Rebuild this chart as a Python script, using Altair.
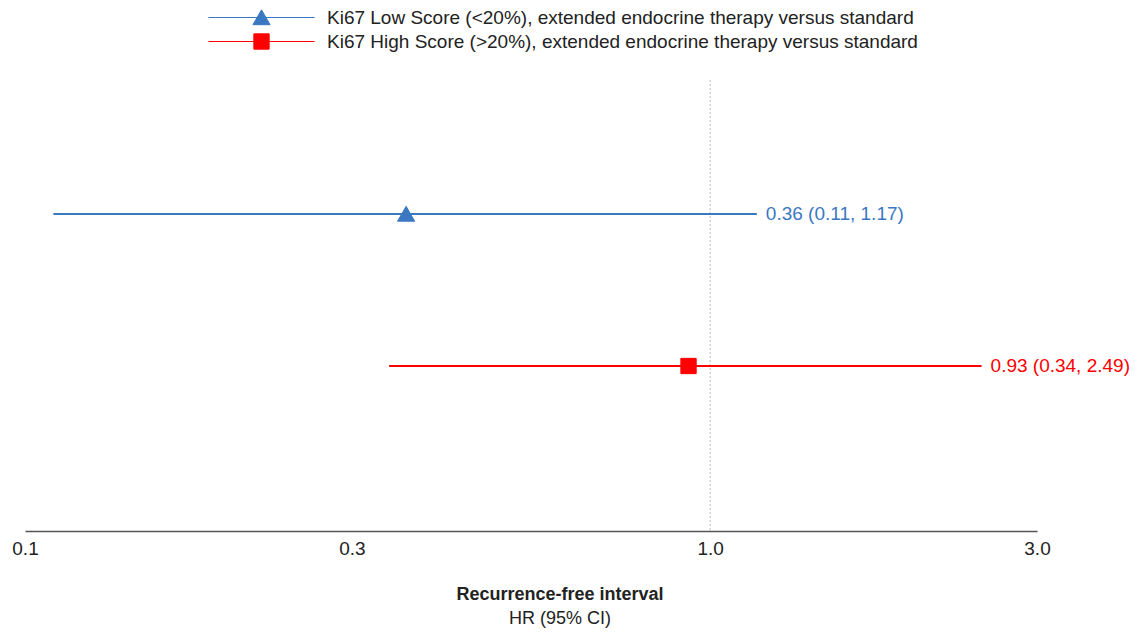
import altair as alt
import pandas as pd

groups = [
    "Ki67 Low Score (<20%),  extended endocrine therapy versus standard",
    "Ki67 High Score (>20%), extended endocrine therapy versus standard",
]
hr = [0.36, 0.93]
lo = [0.11, 0.34]
hi = [1.17, 2.49]
labels = ["0.36 (0.11, 1.17)", "0.93 (0.34, 2.49)"]
ticks = [0.1, 0.3, 1.0, 3.0]
ref_value = [1.0]

df = pd.DataFrame({"group": groups, "hr": hr, "lo": lo, "hi": hi, "label": labels})
ref = pd.DataFrame({"ref": ref_value})

FONT = "Liberation Sans"
BLUE = "#3A78C2"
RED = "#FF0000"

xscale = alt.Scale(type="log", domain=[0.1, 3.0], nice=False)
yscale = alt.Scale(type="point", domain=groups, range=[134, 286], padding=0)
cscale = alt.Scale(domain=groups, range=[BLUE, RED])

tri = "M-5.9,0L5.9,0M0,-0.85L0.95,0.8L-0.95,0.8Z"
sq = "M-5.9,0L5.9,0M-0.85,-0.85L0.85,-0.85L0.85,0.85L-0.85,0.85Z"

xaxis = alt.Axis(values=ticks, format=".1f", title=None, grid=False, ticks=False,
                 domainColor="#555555", domainWidth=1.5, labelFontSize=19, labelColor="#222222",
                 labelPadding=8, labelFont=FONT, labelFlush=False)

refline = alt.Chart(ref).mark_rule(color="#bbbbbb", strokeDash=[2, 2], strokeWidth=1).encode(
    x=alt.X("ref:Q", scale=xscale, axis=xaxis)
)

ci = alt.Chart(df).mark_rule(strokeWidth=2).encode(
    x=alt.X("lo:Q", scale=xscale, axis=xaxis),
    x2="hi:Q",
    y=alt.Y("group:N", scale=yscale, axis=None),
    color=alt.Color("group:N", scale=cscale, title=None),
)

pts = alt.Chart(df).mark_point(filled=True, size=324, opacity=1, strokeWidth=1).encode(
    x=alt.X("hr:Q", scale=xscale, axis=xaxis),
    y=alt.Y("group:N", scale=yscale, axis=None),
    color=alt.Color("group:N", scale=cscale, title=None,
                    legend=alt.Legend(orient="none", legendX=227, legendY=-72, direction="vertical",
                                      labelFontSize=19, labelFont=FONT, labelColor="#222222",
                                      labelLimit=0, labelOffset=56, rowPadding=3, padding=0,
                                      symbolSize=324, symbolStrokeWidth=1)),
    shape=alt.Shape("group:N", scale=alt.Scale(domain=groups, range=[tri, sq]), title=None),
    stroke=alt.Stroke("group:N", scale=cscale, title=None),
)

txt = alt.Chart(df).mark_text(align="left", baseline="middle", dx=9, fontSize=19, font=FONT).encode(
    x=alt.X("hi:Q", scale=xscale, axis=xaxis),
    y=alt.Y("group:N", scale=yscale, axis=None),
    color=alt.Color("group:N", scale=cscale, title=None),
    text="label:N",
)

chart = alt.layer(refline, ci, pts, txt).properties(
    width=1012,
    height=451,
    autosize="none",
    padding={"left": 17, "top": 72, "right": 100, "bottom": 100},
    title=alt.TitleParams(text="Recurrence-free interval", subtitle="HR (95% CI)", orient="bottom",
                          anchor="middle", dx=29, offset=28, fontSize=18, fontWeight="bold",
                          subtitleFontSize=18, font=FONT, subtitleFont=FONT, color="#222222",
                          subtitleColor="#222222", subtitlePadding=6),
).configure_view(stroke=None)

chart.save("out.html", embed_options={"renderer": "svg", "actions": False})
